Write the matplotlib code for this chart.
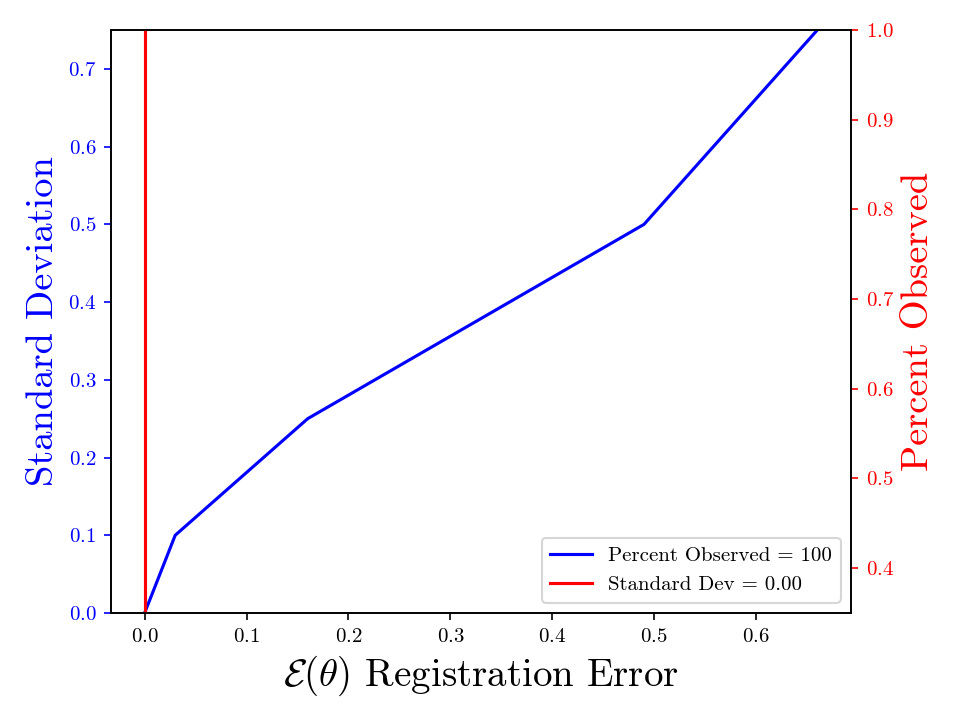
import matplotlib
matplotlib.use('Agg')
import matplotlib.pyplot as plt

plt.rcParams['font.family'] = 'serif'
plt.rcParams['font.serif'] = ['cmr10']
plt.rcParams['mathtext.fontset'] = 'cm'
plt.rcParams['axes.unicode_minus'] = False
plt.rcParams['axes.formatter.use_mathtext'] = True

# registration error vs standard deviation (percent observed = 100)
reg_error = [0.0, 0.03, 0.16, 0.49, 0.66]
std_dev = [0.0, 0.1, 0.25, 0.5, 0.75]

# registration error vs percent observed (std dev = 0.00)
reg_error_pct = [0.0, 0.0, 0.0, 0.0]
pct_observed = [0.35, 0.5, 0.75, 1.0]

fig, ax = plt.subplots(figsize=(9.61 / 1.5, 7.21 / 1.5), dpi=150)
fig.subplots_adjust(left=0.1155, right=0.8855, top=0.9584, bottom=0.1498)

l1, = ax.plot(reg_error, std_dev, color='blue', label='Percent Observed = 100')
ax.set_ylim(0, 0.75)
ax.set_xlabel(r'$\mathcal{E}(\theta)$ Registration Error', fontsize=18.7)
ax.set_ylabel('Standard Deviation', color='blue', fontsize=18.5)
ax.tick_params(axis='y', colors='blue')

ax2 = ax.twinx()
l2, = ax2.plot(reg_error_pct, pct_observed, color='red', label='Standard Dev = 0.00')
ax2.set_ylim(0.35, 1.0)
ax2.set_ylabel('Percent Observed', color='red', fontsize=18.5)
ax2.tick_params(axis='y', colors='red')

ax2.legend(handles=[l1, l2], loc='lower right')

fig.savefig('out.png', dpi=150)
